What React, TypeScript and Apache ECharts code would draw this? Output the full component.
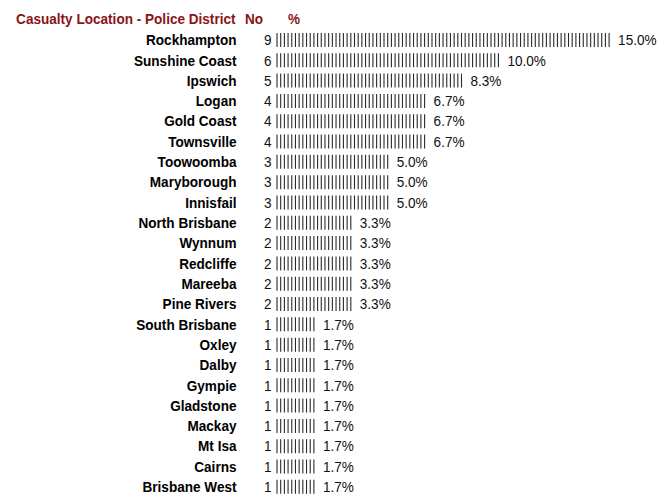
import React, { useEffect, useRef } from "react";
import * as echarts from "echarts";

const districts = [
  "Rockhampton", "Sunshine Coast", "Ipswich", "Logan", "Gold Coast", "Townsville",
  "Toowoomba", "Maryborough", "Innisfail", "North Brisbane", "Wynnum", "Redcliffe",
  "Mareeba", "Pine Rivers", "South Brisbane", "Oxley", "Dalby", "Gympie",
  "Gladstone", "Mackay", "Mt Isa", "Cairns", "Brisbane West",
];
const counts = [9, 6, 5, 4, 4, 4, 3, 3, 3, 2, 2, 2, 2, 2, 1, 1, 1, 1, 1, 1, 1, 1, 1];
const percents = [15.0, 10.0, 8.3, 6.7, 6.7, 6.7, 5.0, 5.0, 5.0, 3.3, 3.3, 3.3, 3.3, 3.3, 1.7, 1.7, 1.7, 1.7, 1.7, 1.7, 1.7, 1.7, 1.7];
const headers = ["Casualty Location - Police District", "No", "%"];

const FONT = "'Liberation Sans', Arial, sans-serif";
const FS = 15;
const SX = 0.905;

export default function App() {
  const ref = useRef<HTMLDivElement>(null);
  useEffect(() => {
    if (!ref.current) return;
    const chart = echarts.init(ref.current, null, { renderer: "svg" });
    const headerStyle = (text: string, align: string) => ({
      text,
      align,
      textAlign: align,
      verticalAlign: "middle",
      textVerticalAlign: "middle",
      font: `bold ${FS}px ${FONT}`,
      fill: "#8b1414",
    });
    const option: any = {
      animation: false,
      backgroundColor: "#ffffff",
      grid: { left: 277, top: 29.8, height: 468.7, width: 369, containLabel: false },
      xAxis: { type: "value", min: 0, max: 10, show: false },
      yAxis: {
        type: "category",
        data: districts,
        inverse: true,
        axisLine: { show: false },
        axisTick: { show: false },
        splitLine: { show: false },
        axisLabel: { show: false },
      },
      graphic: [
        { type: "text", x: 235.5, y: 19, scaleX: SX, style: headerStyle(headers[0], "right") },
        { type: "text", x: 245, y: 19, scaleX: SX, style: headerStyle(headers[1], "left") },
        { type: "text", x: 288, y: 19, scaleX: SX, style: headerStyle(headers[2], "left") },
      ],
      series: [
        {
          type: "custom",
          encode: { x: 1, y: 0 },
          data: counts.map((c, i) => [i, c]),
          renderItem: (params: any, api: any) => {
            const idx = api.value(0);
            const v = api.value(1);
            const start = api.coord([0, idx]);
            const end = api.coord([v, idx]);
            const len = end[0] - start[0];
            const n = Math.round(len / 3.69) + 1;
            const step = n > 1 ? len / (n - 1) : 0;
            const children: any[] = [];
            children.push({
              type: "text",
              x: start[0] - 40.5,
              y: start[1],
              scaleX: SX,
              style: {
                text: districts[params.dataIndex],
                align: "right",
                verticalAlign: "middle",
                font: `bold ${FS}px ${FONT}`,
                fill: "#000000",
              },
            });
            children.push({
              type: "text",
              x: start[0] - 5.5,
              y: start[1],
              scaleX: SX,
              style: {
                text: String(counts[params.dataIndex]),
                align: "right",
                verticalAlign: "middle",
                font: `${FS}px ${FONT}`,
                fill: "#111111",
              },
            });
            for (let i = 0; i < n; i++) {
              children.push({
                type: "rect",
                shape: { x: start[0] + i * step - 0.55, y: start[1] - 7, width: 1.1, height: 14 },
                style: { fill: "#2a2a2a" },
              });
            }
            children.push({
              type: "text",
              x: end[0] + 9,
              y: start[1],
              scaleX: SX,
              style: {
                text: percents[params.dataIndex].toFixed(1) + "%",
                align: "left",
                verticalAlign: "middle",
                font: `${FS}px ${FONT}`,
                fill: "#111111",
              },
            });
            return { type: "group", children };
          },
        },
      ],
    };
    chart.setOption(option);
    return () => chart.dispose();
  }, []);
  return (
    <div
      ref={ref}
      style={{ position: "absolute", left: 0, top: 0, width: 669, height: 497 }}
    />
  );
}
